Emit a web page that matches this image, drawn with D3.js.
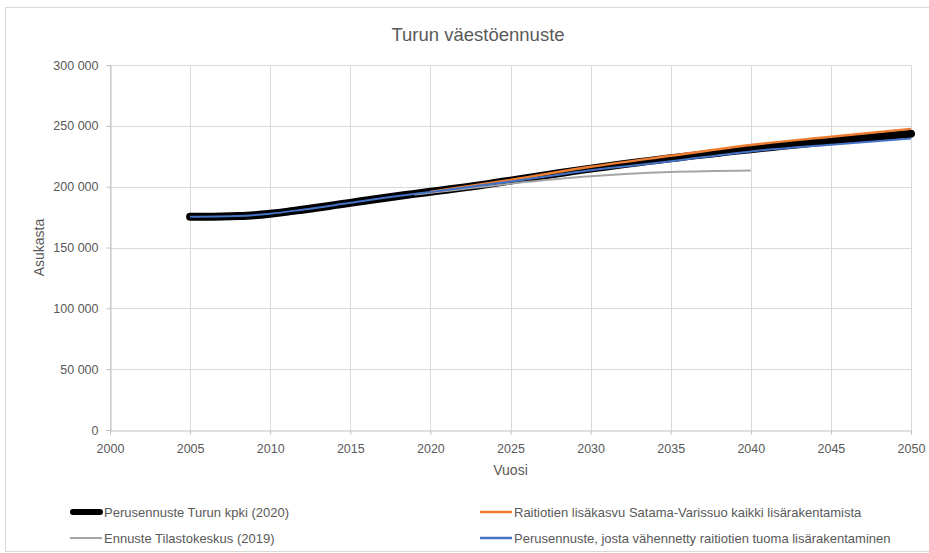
<!DOCTYPE html>
<html><head><meta charset="utf-8">
<script src="https://cdn.jsdelivr.net/npm/d3@7"></script>
<style>
html,body{margin:0;padding:0;background:#fff;}
svg text{font-family:"Liberation Sans Narrow","Liberation Sans",Arial,sans-serif;fill:#595959;}
</style></head>
<body><svg id="c" width="929" height="553"></svg>
<script>
const title = "Turun väestöennuste";
const xTicks = [2000,2005,2010,2015,2020,2025,2030,2035,2040,2045,2050];
const yTicks = [0,50000,100000,150000,200000,250000,300000];
const xLabel = "Vuosi";
const yLabel = "Asukasta";

const baseYears = d3.range(2005, 2051);
const baseValues = [175300,175300,175500,175900,176600,177800,179300,181100,182900,184800,186700,188600,190500,192300,194100,195800,197500,199200,201000,203000,205000,207000,209000,211000,213000,214800,216600,218400,220100,221700,223300,224900,226400,227900,229400,230800,232200,233600,234900,236200,237500,238700,239900,241100,242300,243500];

const orangeYears = [2020,2025,2030,2035,2040,2045,2050];
const orangeValues = [195800,205500,216300,225400,234300,241000,247500];

const grayYears = [2019,2020,2025,2030,2035,2040];
const grayValues = [193500,195000,202500,208500,212000,213300];

const blueYears = [2005,2008,2010,2012,2015,2018,2020,2025,2030,2035,2040,2045,2050];
const blueValues = [175300,175900,177800,181100,186700,192300,195600,204200,213500,220800,229000,234500,239500];

const seriesNames = ["Perusennuste Turun kpki (2020)","Raitiotien lisäkasvu Satama-Varissuo kaikki lisärakentamista","Ennuste Tilastokeskus (2019)","Perusennuste, josta vähennetty raitiotien tuoma lisärakentaminen"];

const svg = d3.select("#c");
svg.append("rect").attr("x",5.5).attr("y",7.5).attr("width",930).attr("height",544)
  .attr("fill","#fff").attr("stroke","#d9d9d9");

const x = d3.scaleLinear().domain([2000,2050]).range([110,911]);
const y = d3.scaleLinear().domain([0,300000]).range([430,65]);
const fmt = v => d3.format(",")(v).replace(/,/g," ");

// gridlines
svg.append("g").selectAll("line").data(yTicks.slice(1)).join("line")
  .attr("x1",x(2000)).attr("x2",x(2050)).attr("y1",d=>Math.round(y(d))+0.5).attr("y2",d=>Math.round(y(d))+0.5)
  .attr("stroke","#d9d9d9");
svg.append("g").selectAll("line").data(xTicks).join("line")
  .attr("x1",d=>Math.round(x(d))+0.5).attr("x2",d=>Math.round(x(d))+0.5).attr("y1",y(300000)).attr("y2",y(0))
  .attr("stroke","#d9d9d9");
// axes
const yAx = svg.append("g").attr("transform",`translate(${Math.round(x(2000))+0.5},0)`)
  .call(d3.axisLeft(y).tickValues(yTicks).tickFormat(fmt).tickSize(4).tickPadding(8));
const xAx = svg.append("g").attr("transform",`translate(0,${Math.round(y(0))+0.5})`)
  .call(d3.axisBottom(x).tickValues(xTicks).tickFormat(d3.format("d")).tickSize(4).tickPadding(10));
[yAx,xAx].forEach(g=>{
  g.selectAll(".domain").attr("stroke","#bfbfbf");
  g.selectAll(".tick line").attr("stroke","#bfbfbf");
  g.selectAll("text").style("font-size","12.5px").attr("fill","#595959");
});

svg.append("text").attr("x",478).attr("y",41).attr("text-anchor","middle").style("font-size","18.5px").text(title);
svg.append("text").attr("x",x(2025)).attr("y",475).attr("text-anchor","middle").style("font-size","14px").text(xLabel);
svg.append("text").attr("transform",`translate(44,${(y(0)+y(300000))/2}) rotate(-90)`).attr("text-anchor","middle").style("font-size","14px").text(yLabel);

const line = d3.line().x(d=>x(d[0])).y(d=>y(d[1])).curve(d3.curveMonotoneX);
const zip = (a,b)=>a.map((v,i)=>[v,b[i]]);
svg.append("path").datum(zip(baseYears,baseValues)).attr("d",line).attr("fill","none")
  .attr("stroke","#000").attr("stroke-width",8).attr("stroke-linecap","round").attr("stroke-linejoin","round");
svg.append("path").datum(zip(grayYears,grayValues)).attr("d",line).attr("fill","none")
  .attr("stroke","#a5a5a5").attr("stroke-width",2);
svg.append("path").datum(zip(orangeYears,orangeValues)).attr("d",line).attr("fill","none")
  .attr("stroke","#ed7d31").attr("stroke-width",2.5);
svg.append("path").datum(zip(blueYears,blueValues)).attr("d",line).attr("fill","none")
  .attr("stroke","#4472c4").attr("stroke-width",2);

// legend
const leg = [
  {name:seriesNames[0],color:"#000",w:6,x:70,y:512},
  {name:seriesNames[1],color:"#ed7d31",w:2.5,x:480,y:512},
  {name:seriesNames[2],color:"#a5a5a5",w:2,x:70,y:538},
  {name:seriesNames[3],color:"#4472c4",w:2.5,x:480,y:538}
];
const lg = svg.append("g").selectAll("g").data(leg).join("g");
lg.append("line").attr("x1",d=>d.x+(d.w>4?3:0)).attr("x2",d=>d.x+(d.w>4?30:32)).attr("y1",d=>d.y).attr("y2",d=>d.y)
  .attr("stroke",d=>d.color).attr("stroke-width",d=>d.w).attr("stroke-linecap",d=>d.w>4?"round":"butt");
lg.append("text").attr("x",d=>d.x+34).attr("y",d=>d.y+4.5).style("font-size","13px").text(d=>d.name);
</script></body></html>
